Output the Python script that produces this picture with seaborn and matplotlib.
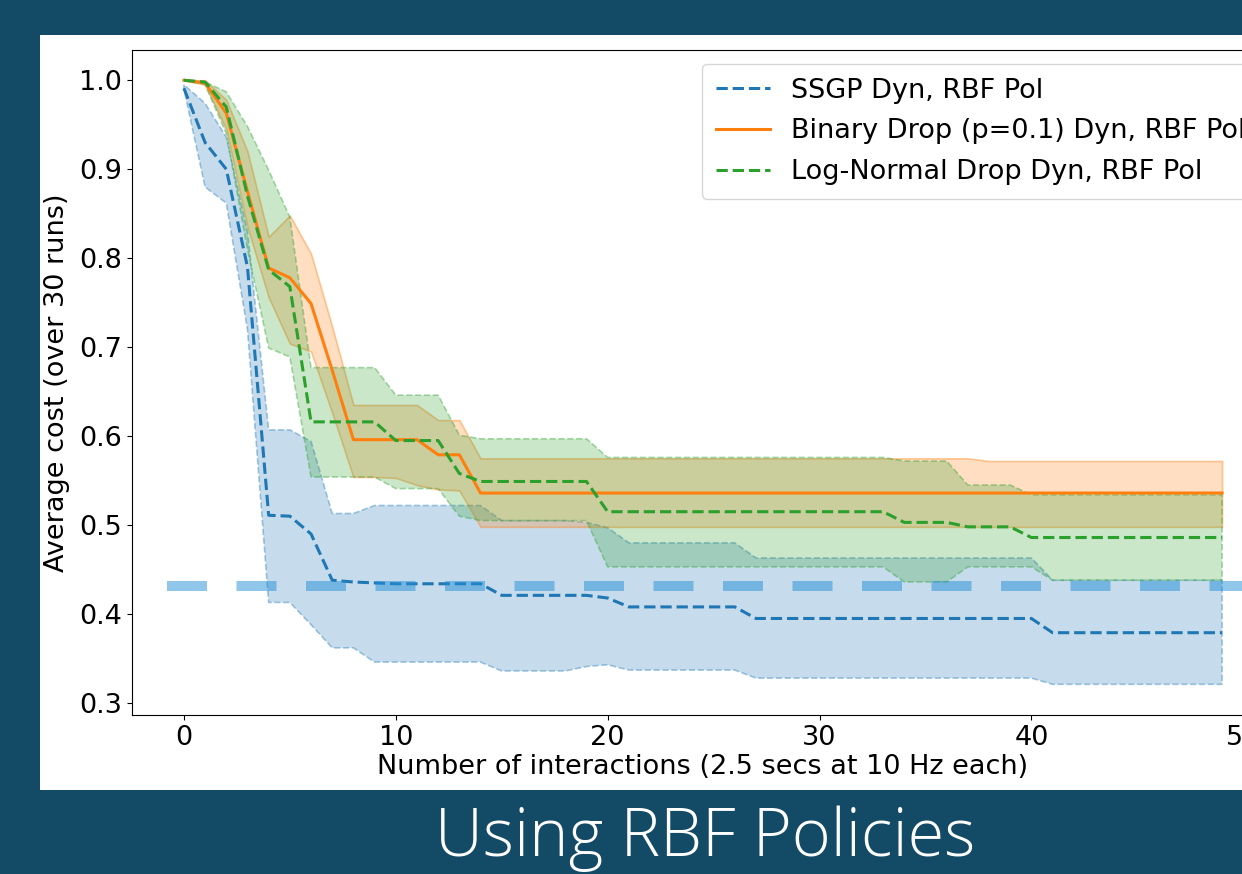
import numpy as np
import pandas as pd
import seaborn as sns
import matplotlib
matplotlib.use("Agg")
import matplotlib.pyplot as plt
from matplotlib.patches import Rectangle

# interactions 0..49
x = np.arange(50)

# SSGP Dyn, RBF Pol
ssgp_mean = [0.991, 0.93, 0.90, 0.79, 0.511, 0.510, 0.49, 0.438, 0.436, 0.435,
             0.434, 0.434, 0.434, 0.434, 0.434, 0.421, 0.421, 0.421, 0.421, 0.421,
             0.418, 0.408, 0.408, 0.408, 0.408, 0.408, 0.408, 0.395, 0.395, 0.395,
             0.395, 0.395, 0.395, 0.395, 0.395, 0.395, 0.395, 0.395, 0.395, 0.395,
             0.395, 0.379, 0.379, 0.379, 0.379, 0.379, 0.379, 0.379, 0.379, 0.379]
ssgp_upper = [0.995, 0.974, 0.936, 0.83, 0.607, 0.607, 0.594, 0.513, 0.513, 0.522,
              0.522, 0.522, 0.522, 0.522, 0.522, 0.505, 0.505, 0.505, 0.505, 0.503,
              0.497, 0.48, 0.48, 0.48, 0.48, 0.48, 0.48, 0.463, 0.463, 0.463,
              0.463, 0.463, 0.463, 0.463, 0.463, 0.463, 0.463, 0.463, 0.463, 0.463,
              0.463, 0.438, 0.438, 0.438, 0.438, 0.438, 0.438, 0.438, 0.438, 0.438]
ssgp_lower = [0.99, 0.88, 0.862, 0.72, 0.413, 0.413, 0.388, 0.362, 0.362, 0.346,
              0.346, 0.346, 0.346, 0.346, 0.346, 0.336, 0.336, 0.336, 0.336, 0.341,
              0.343, 0.337, 0.337, 0.337, 0.337, 0.337, 0.337, 0.328, 0.328, 0.328,
              0.328, 0.328, 0.328, 0.328, 0.328, 0.328, 0.328, 0.328, 0.328, 0.328,
              0.328, 0.321, 0.321, 0.321, 0.321, 0.321, 0.321, 0.321, 0.321, 0.321]

# Binary Drop (p=0.1) Dyn, RBF Pol
binary_mean = [1.0, 0.997, 0.963, 0.875, 0.789, 0.778, 0.749, 0.674, 0.596, 0.596,
               0.596, 0.596, 0.579, 0.579, 0.536, 0.536, 0.536, 0.536, 0.536, 0.536,
               0.536, 0.536, 0.536, 0.536, 0.536, 0.536, 0.536, 0.536, 0.536, 0.536,
               0.536, 0.536, 0.536, 0.536, 0.536, 0.536, 0.536, 0.536, 0.536, 0.536,
               0.536, 0.536, 0.536, 0.536, 0.536, 0.536, 0.536, 0.536, 0.536, 0.536]
binary_upper = [1.0, 1.0, 0.978, 0.92, 0.824, 0.848, 0.805, 0.723, 0.635, 0.635,
                0.635, 0.635, 0.618, 0.618, 0.575, 0.575, 0.575, 0.575, 0.575, 0.575,
                0.575, 0.575, 0.575, 0.575, 0.575, 0.575, 0.575, 0.575, 0.575, 0.575,
                0.575, 0.575, 0.575, 0.575, 0.575, 0.575, 0.575, 0.575, 0.572, 0.572,
                0.572, 0.572, 0.572, 0.572, 0.572, 0.572, 0.572, 0.572, 0.572, 0.572]
binary_lower = [1.0, 0.995, 0.945, 0.835, 0.756, 0.704, 0.695, 0.626, 0.554, 0.554,
                0.553, 0.545, 0.540, 0.539, 0.498, 0.498, 0.498, 0.498, 0.498, 0.498,
                0.498, 0.498, 0.498, 0.498, 0.498, 0.498, 0.498, 0.498, 0.498, 0.498,
                0.498, 0.498, 0.498, 0.498, 0.498, 0.498, 0.498, 0.498, 0.498, 0.498,
                0.498, 0.498, 0.498, 0.498, 0.498, 0.498, 0.498, 0.498, 0.498, 0.498]

# Log-Normal Drop Dyn, RBF Pol
lognorm_mean = [1.0, 0.998, 0.97, 0.87, 0.787, 0.768, 0.616, 0.616, 0.616, 0.616,
                0.595, 0.595, 0.595, 0.558, 0.549, 0.549, 0.549, 0.549, 0.549, 0.549,
                0.515, 0.515, 0.515, 0.515, 0.515, 0.515, 0.515, 0.515, 0.515, 0.515,
                0.515, 0.515, 0.515, 0.515, 0.503, 0.503, 0.503, 0.498, 0.498, 0.498,
                0.486, 0.486, 0.486, 0.486, 0.486, 0.486, 0.486, 0.486, 0.486, 0.486]
lognorm_upper = [1.0, 0.998, 0.987, 0.948, 0.899, 0.846, 0.677, 0.677, 0.677, 0.677,
                 0.646, 0.646, 0.646, 0.601, 0.597, 0.597, 0.597, 0.597, 0.597, 0.597,
                 0.576, 0.576, 0.576, 0.576, 0.576, 0.576, 0.576, 0.576, 0.576, 0.576,
                 0.576, 0.576, 0.576, 0.576, 0.572, 0.572, 0.572, 0.545, 0.545, 0.545,
                 0.534, 0.534, 0.534, 0.534, 0.534, 0.534, 0.534, 0.534, 0.534, 0.534]
lognorm_lower = [1.0, 0.995, 0.94, 0.81, 0.699, 0.689, 0.554, 0.554, 0.554, 0.554,
                 0.541, 0.541, 0.541, 0.51, 0.505, 0.505, 0.505, 0.505, 0.505, 0.505,
                 0.453, 0.453, 0.453, 0.453, 0.453, 0.453, 0.453, 0.453, 0.453, 0.453,
                 0.453, 0.453, 0.453, 0.453, 0.436, 0.436, 0.436, 0.453, 0.453, 0.453,
                 0.453, 0.438, 0.438, 0.438, 0.438, 0.438, 0.438, 0.438, 0.438, 0.438]

target_cost = 0.432

labels = ["SSGP Dyn, RBF Pol", "Binary Drop (p=0.1) Dyn, RBF Pol",
          "Log-Normal Drop Dyn, RBF Pol"]
colors = ["#1f77b4", "#ff7f0e", "#2ca02c"]
styles = ["--", "-", "--"]

slide_bg = "#134a65"
fs = 19.5

fig = plt.figure(figsize=(12.42, 8.74), dpi=100, facecolor=slide_bg)
# white panel the plot sits on
fig.patches.append(Rectangle((40 / 1242, 1 - 790 / 874), 1.0, 755 / 874,
                             transform=fig.transFigure, facecolor="white",
                             edgecolor="none", zorder=-1))

# axes run past the right edge, like the cropped slide
ax = fig.add_axes([132 / 1242, 1 - 715 / 874, 1142 / 1242, 665 / 874])
ax.set_zorder(1)
ax.set_facecolor("white")

series = [(ssgp_mean, ssgp_lower, ssgp_upper),
          (binary_mean, binary_lower, binary_upper),
          (lognorm_mean, lognorm_lower, lognorm_upper)]

for (m, lo, hi), lab, c, ls in zip(series, labels, colors, styles):
    df = pd.DataFrame({"x": x, "cost": m})
    rgb = matplotlib.colors.to_rgb(c)
    ax.fill_between(x, lo, hi, facecolor=rgb + (0.25,), edgecolor=rgb + (0.4,),
                    linestyle=ls, linewidth=1.2)
    sns.lineplot(data=df, x="x", y="cost", ax=ax, color=c, linestyle=ls,
                 linewidth=2.2, label=lab)

ax.hlines(target_cost, -0.8, 53, colors=[(0.13, 0.56, 0.84, 0.5)],
          linestyles=[(0, (4, 2.95))], linewidth=7.2)

ax.set_xlim(-2.45, 51.45)
ax.set_ylim(0.2865, 1.034)
ax.set_xticks([0, 10, 20, 30, 40, 50])
ax.set_yticks([0.3, 0.4, 0.5, 0.6, 0.7, 0.8, 0.9, 1.0])
ax.tick_params(labelsize=fs)
ax.set_xlabel("Number of interactions (2.5 secs at 10 Hz each)", fontsize=fs,
              labelpad=2)
ax.set_ylabel("Average cost (over 30 runs)", fontsize=fs, labelpad=7)

ax.legend(loc="upper left", bbox_to_anchor=(702 / 1242, 1 - 64 / 874),
          bbox_transform=fig.transFigure, borderaxespad=0, fontsize=fs,
          labelspacing=0.55, borderpad=0.5)

fig.text(705 / 1242, 1 - 856 / 874, "Using RBF Policies", color="white",
         fontsize=48, fontweight="light", family=["Open Sans", "DejaVu Sans"],
         ha="center", va="baseline")

fig.savefig("out.png", dpi=100, facecolor=slide_bg)
